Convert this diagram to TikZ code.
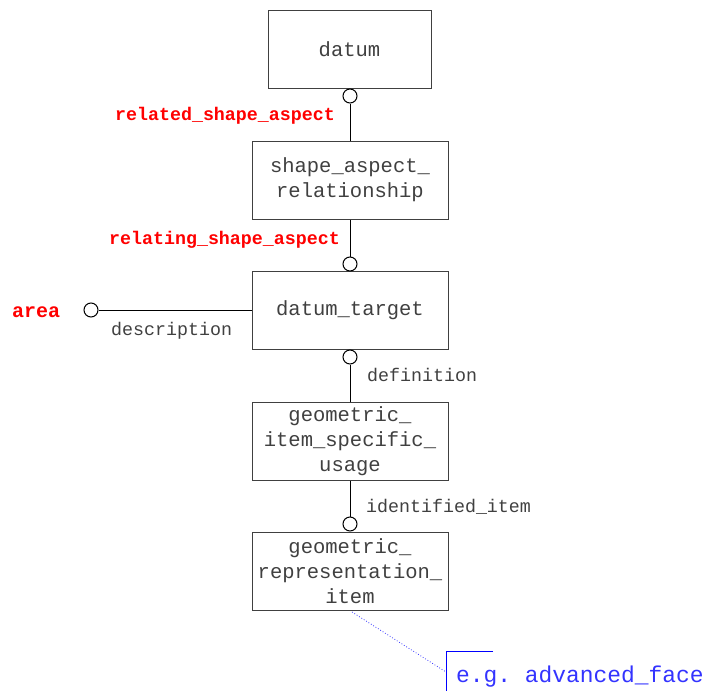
\documentclass[tikz,border=0pt]{standalone}
\usepackage{fontspec}
\setmonofont{Liberation Mono}
\begin{document}
\begin{tikzpicture}[x=1pt,y=-1pt,
  ent/.style={draw=black!75,line width=1pt,minimum width=#1,minimum height=78pt,inner sep=0pt,
    font=\fontsize{20.5}{25}\selectfont\ttfamily,text=black!75,align=center},
  ent/.default=196pt,
  lbl/.style={font=\fontsize{18.3}{22}\selectfont\ttfamily,text=black!75,inner sep=0pt},
  red/.style={font=\fontsize{18.3}{22}\selectfont\ttfamily\bfseries,text=red,inner sep=0pt},
  circ/.style={draw=black,line width=1pt,fill=white,circle,minimum size=14pt,inner sep=0pt},
  conn/.style={draw=black,line width=1pt}]
\useasboundingbox (0,0) rectangle (705,691);
\node[ent=163pt] (datum) at (349.5,49) {datum};
\node[ent] (sar) at (350,180) {shape\_aspect\_\\relationship};
\node[ent] (dt) at (350,310) {datum\_target};
\node[ent] (gisu) at (350,441) {geometric\_\\item\_specific\_\\usage};
\node[ent] (gri) at (350,571) {geometric\_\\representation\_\\item};
\node[circ] (c1) at (350,96) {};
\node[circ] (c2) at (350,264) {};
\node[circ] (c3) at (350,357) {};
\node[circ] (c4) at (350,524) {};
\node[circ] (c5) at (91,310) {};
\draw[conn] (c1) -- (sar);
\draw[conn] (sar) -- (c2);
\draw[conn] (c3) -- (gisu);
\draw[conn] (gisu) -- (c4);
\draw[conn] (c5) -- (dt);
\node[red,anchor=base east] (l1) at (335,120) {related\_shape\_aspect};
\node[red,anchor=base east] (l2) at (340,244) {relating\_shape\_aspect};
\node[red,font=\fontsize{20}{24}\selectfont\ttfamily\bfseries,anchor=base west] (l3) at (12,317) {area};
\node[lbl,anchor=base west] (l4) at (111,335) {description};
\node[lbl,anchor=base west] (l5) at (367,381) {definition};
\node[lbl,anchor=base west] (l6) at (366,512) {identified\_item};
\coordinate (nb) at (446,672);
\draw[blue!80,dotted,line width=0.8pt] (352,612) -- (nb);
\draw[blue,line width=1pt] (493,651) -- (446,651) -- (446,691);
\node[font=\fontsize{22.9}{26}\selectfont\ttfamily,text=blue!80,anchor=base west,inner sep=0pt] (note) at (456,682) {e.g. advanced\_face};
\end{tikzpicture}
\end{document}
